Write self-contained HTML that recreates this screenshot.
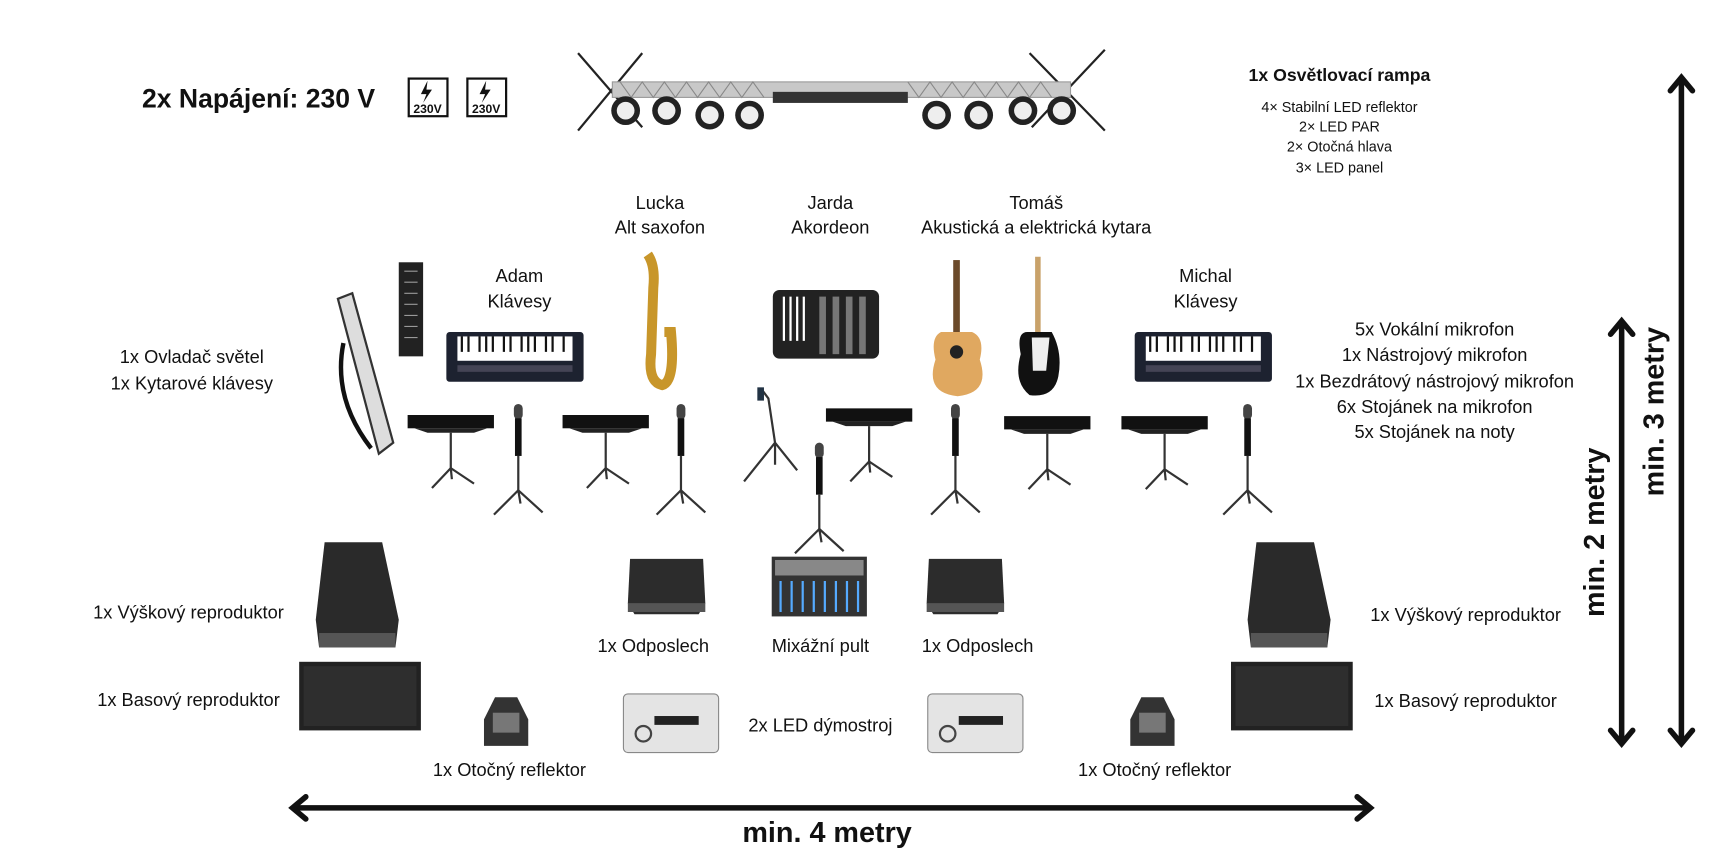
<!DOCTYPE html>
<html><head><meta charset="utf-8"><style>
html,body{margin:0;padding:0;background:#fff;width:1736px;height:861px;overflow:hidden}
svg{display:block}
text{font-family:"Liberation Sans",sans-serif;fill:#111}
</style></head><body>
<svg width="1736" height="861" viewBox="0 0 1568 778" xmlns="http://www.w3.org/2000/svg">
<defs>
<g id="ns"><rect x="0" y="0" width="78" height="12" fill="#111"/><path d="M6 12 L72 12 L60 16 L18 16Z" fill="#222"/><line x1="39" y1="16" x2="39" y2="50" stroke="#333" stroke-width="2"/><path d="M39 48 L22 66 M39 48 L60 62 M39 48 L40 58" stroke="#333" stroke-width="2" fill="none"/></g>
<g id="ms"><rect x="-4" y="0" width="8" height="14" rx="4" fill="#444"/><rect x="-3" y="13" width="6" height="34" fill="#111"/><line x1="0" y1="47" x2="0" y2="80" stroke="#333" stroke-width="2"/><path d="M0 78 L-22 100 M0 78 L22 98 M0 78 L2 90" stroke="#333" stroke-width="2" fill="none"/></g>
<g id="kb"><rect x="0" y="0" width="124" height="45" rx="3" fill="#1d2230"/><rect x="10" y="4" width="104" height="22" fill="#fff"/><g stroke="#111" stroke-width="2"><path d="M14 4v14M20 4v14M30 4v14M36 4v14M42 4v14M52 4v14M58 4v14M68 4v14M74 4v14M80 4v14M90 4v14M96 4v14M106 4v14"/></g><rect x="10" y="30" width="104" height="6" fill="#445"/></g>
<g id="spk"><path d="M8 0 L60 0 L75 70 L72 95 L3 95 L0 70Z" fill="#2a2a2a"/><rect x="3" y="82" width="69" height="13" fill="#555"/></g>
<g id="bass"><rect x="0" y="0" width="110" height="62" fill="#222"/><rect x="4" y="4" width="102" height="54" fill="#2e2e2e"/></g>
<g id="mon"><path d="M2 0 L68 0 L70 40 L64 50 L6 50 L0 40Z" fill="#2c2c2c"/><rect x="0" y="40" width="70" height="8" fill="#555"/></g>
<g id="fog"><rect x="0" y="0" width="86" height="53" rx="4" fill="#e4e4e4" stroke="#888"/><rect x="28" y="20" width="40" height="8" fill="#222"/><circle cx="18" cy="36" r="7" fill="none" stroke="#444" stroke-width="2"/></g>
<g id="mh"><path d="M10 0 L30 0 L40 20 L40 44 L0 44 L0 20Z" fill="#333"/><rect x="8" y="14" width="24" height="18" fill="#777"/></g>
<g id="lt"><circle r="13" fill="#222"/><circle r="8" fill="#eee"/></g>
</defs>

<text x="128" y="97" font-size="24" font-weight="bold">2x Napájení: 230 V</text>
<g><rect x="369" y="71" width="35" height="34" fill="#fff" stroke="#111" stroke-width="2"/><path d="M386 73 l-6 12 h5 l-3 8 l8 -12 h-5z" fill="#111"/><text x="386" y="102" font-size="11" text-anchor="middle" font-weight="bold">230V</text></g>
<g><rect x="422" y="71" width="35" height="34" fill="#fff" stroke="#111" stroke-width="2"/><path d="M439 73 l-6 12 h5 l-3 8 l8 -12 h-5z" fill="#111"/><text x="439" y="102" font-size="11" text-anchor="middle" font-weight="bold">230V</text></g>

<g stroke="#222" stroke-width="2"><line x1="522" y1="48" x2="580" y2="115"/><line x1="580" y1="48" x2="522" y2="118"/><line x1="930" y1="48" x2="998" y2="118"/><line x1="998" y1="45" x2="932" y2="115"/></g>
<rect x="553" y="74" width="414" height="14" fill="#c8c8c8" stroke="#999"/>
<path d="M560 74 l10 14 l10 -14 l10 14 l10 -14 l10 14 l10 -14 l10 14 l10 -14 l10 14 l10 -14 l10 14 l10 -14 l10 14 M820 74 l10 14 l10 -14 l10 14 l10 -14 l10 14 l10 -14 l10 14 l10 -14 l10 14 l10 -14 l10 14 l10 -14 l10 14" stroke="#888" fill="none"/>
<rect x="698" y="83" width="122" height="10" fill="#333"/>
<use href="#lt" x="565" y="100"/><use href="#lt" x="602" y="100"/><use href="#lt" x="641" y="104"/><use href="#lt" x="677" y="104"/><use href="#lt" x="846" y="104"/><use href="#lt" x="884" y="104"/><use href="#lt" x="924" y="100"/><use href="#lt" x="959" y="100"/>

<text x="1210" y="73" font-size="16" font-weight="bold" text-anchor="middle">1x Osvětlovací rampa</text>
<g font-size="13" text-anchor="middle"><text x="1210" y="101">4× Stabilní LED reflektor</text><text x="1210" y="119">2× LED PAR</text><text x="1210" y="137">2× Otočná hlava</text><text x="1210" y="156">3× LED panel</text></g>

<g font-size="16.5" text-anchor="middle">
<text x="596" y="189">Lucka</text><text x="596" y="211">Alt saxofon</text>
<text x="750" y="189">Jarda</text><text x="750" y="211">Akordeon</text>
<text x="936" y="189">Tomáš</text><text x="936" y="211">Akustická a elektrická kytara</text>
<text x="469" y="255">Adam</text><text x="469" y="278">Klávesy</text>
<text x="1089" y="255">Michal</text><text x="1089" y="278">Klávesy</text>
<text x="173" y="328">1x Ovladač světel</text><text x="173" y="352">1x Kytarové klávesy</text>
<text x="1296" y="303">5x Vokální mikrofon</text><text x="1296" y="326">1x Nástrojový mikrofon</text><text x="1296" y="350">1x Bezdrátový nástrojový mikrofon</text><text x="1296" y="373">6x Stojánek na mikrofon</text><text x="1296" y="396">5x Stojánek na noty</text>
<text x="170" y="559">1x Výškový reproduktor</text><text x="1324" y="561">1x Výškový reproduktor</text>
<text x="170" y="638">1x Basový reproduktor</text><text x="1324" y="639">1x Basový reproduktor</text>
<text x="590" y="589">1x Odposlech</text><text x="741" y="589">Mixážní pult</text><text x="883" y="589">1x Odposlech</text>
<text x="741" y="661">2x LED dýmostroj</text>
<text x="460" y="701">1x Otočný reflektor</text><text x="1043" y="701">1x Otočný reflektor</text>
</g>

<rect x="360" y="237" width="22" height="85" fill="#222"/><g stroke="#999"><path d="M365 245h12M365 255h12M365 265h12M365 275h12M365 285h12M365 295h12M365 305h12"/></g>
<path d="M305 270 L318 265 L355 400 L342 410Z" fill="#ddd" stroke="#333" stroke-width="2"/><path d="M310 310 Q300 360 335 405" stroke="#111" stroke-width="4" fill="none"/>
<use href="#kb" x="403" y="300"/><use href="#kb" x="1025" y="300"/>
<path d="M585 230 Q592 240 590 260 L588 320 Q585 345 598 348 Q610 345 606 300 L600 300" stroke="#c8962a" stroke-width="9" fill="none"/>
<rect x="698" y="262" width="96" height="62" rx="6" fill="#222"/><g stroke="#fff" stroke-width="2"><path d="M708 268v40M714 268v40M720 268v40M726 268v40"/></g><g fill="#777"><rect x="740" y="268" width="6" height="52"/><rect x="752" y="268" width="6" height="52"/><rect x="764" y="268" width="6" height="52"/><rect x="776" y="268" width="6" height="52"/></g>
<rect x="861" y="235" width="6" height="65" fill="#6b4a2a"/><path d="M850 300 Q840 305 845 325 Q835 355 865 358 Q895 355 885 325 Q890 305 878 300Z" fill="#e0a860"/><circle cx="864" cy="318" r="6" fill="#222"/>
<rect x="935" y="232" width="5" height="70" fill="#c9a26a"/><path d="M928 300 Q918 300 922 320 Q915 345 930 357 Q952 360 956 340 Q960 318 950 300Z" fill="#111"/><path d="M932 305 L948 305 L945 335 L933 335Z" fill="#eee"/>

<use href="#ns" x="368" y="375"/><use href="#ns" x="508" y="375"/><use href="#ns" x="746" y="369"/><use href="#ns" x="907" y="376"/><use href="#ns" x="1013" y="376"/>
<use href="#ms" x="468" y="365"/><use href="#ms" x="615" y="365"/><use href="#ms" x="863" y="365"/><use href="#ms" x="1127" y="365"/><use href="#ms" x="740" y="400"/>
<path d="M688 352 L694 360 L700 400 L672 435 M700 400 L720 425 M700 400 L700 420" stroke="#333" stroke-width="2" fill="none"/><rect x="684" y="350" width="6" height="12" fill="#234"/>

<use href="#spk" x="285" y="490"/><use href="#spk" x="1127" y="490"/>
<use href="#bass" x="270" y="598"/><use href="#bass" x="1112" y="598"/>
<use href="#mon" x="567" y="505"/><use href="#mon" x="837" y="505"/>
<rect x="697" y="503" width="86" height="54" fill="#333"/><rect x="700" y="506" width="80" height="14" fill="#888"/><g stroke="#5af" stroke-width="2"><path d="M705 525v28M715 525v28M725 525v28M735 525v28M745 525v28M755 525v28M765 525v28M775 525v28"/></g>
<use href="#fog" x="563" y="627"/><use href="#fog" x="838" y="627"/>
<use href="#mh" x="437" y="630"/><use href="#mh" x="1021" y="630"/>

<g stroke="#111" stroke-width="5" fill="none" stroke-linecap="round">
<line x1="266" y1="730" x2="1236" y2="730"/><path d="M276 720 L264 730 L276 740 M1226 720 L1238 730 L1226 740"/>
<line x1="1465" y1="292" x2="1465" y2="670"/><path d="M1455 302 L1465 290 L1475 302 M1455 660 L1465 672 L1475 660"/>
<line x1="1519" y1="72" x2="1519" y2="670"/><path d="M1509 82 L1519 70 L1529 82 M1509 660 L1519 672 L1529 660"/>
</g>
<text x="747" y="761" font-size="26" font-weight="bold" text-anchor="middle">min. 4 metry</text>
<text transform="translate(1449,481) rotate(-90)" font-size="26" font-weight="bold" text-anchor="middle">min. 2 metry</text>
<text transform="translate(1503,372) rotate(-90)" font-size="26" font-weight="bold" text-anchor="middle">min. 3 metry</text>
</svg>
</body></html>
